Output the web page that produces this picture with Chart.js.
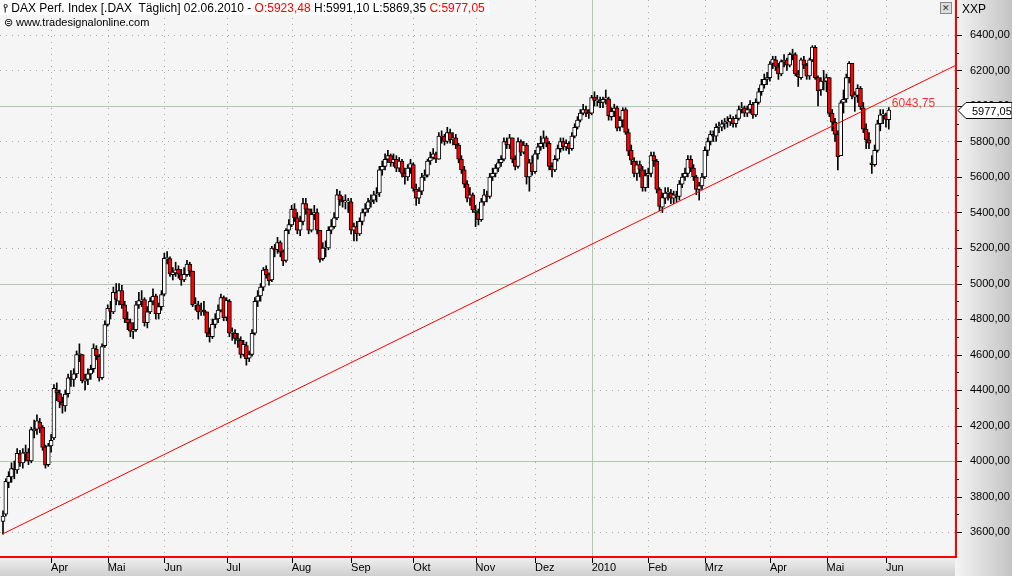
<!DOCTYPE html>
<html>
<head>
<meta charset="utf-8">
<script src="https://cdn.jsdelivr.net/npm/chart.js@4"></script>
<style>
  body { margin: 0; background: #f5f5f5; font-family: "Liberation Sans", Arial, sans-serif; }
  #wrap { position: relative; width: 1012px; height: 576px; }
  #head { position: absolute; left: 0; top: 0; font-size: 12px; line-height: 14px; }
  #head .l1 { background: #fff; padding: 1px 4px 0 3px; display: inline-block; }
  #head .l2 { font-size: 11px; padding-left: 4px; }
  .red { color: #ff0000; }
  #xxp { position: absolute; left: 962px; top: 2px; font-size: 12px; }
  #xbox { position: absolute; left: 940px; top: 2px; width: 10px; height: 10px; border: 1px solid #888; background: #ddd; font-size: 9px; line-height: 10px; text-align: center; color: #333; }
</style>
</head>
<body>
<div id="wrap">
  <canvas id="chart" width="1012" height="576"></canvas>
  <div id="head">
    <div class="l1">&#x2AEF; DAX Perf. Index [.DAX&nbsp; Täglich] 02.06.2010 - <span class="red">O:5923,48</span> H:5991,10 L:5869,35 <span class="red">C:5977,05</span></div>
    <div class="l2">&#x229C; www.tradesignalonline.com</div>
  </div>
  <div id="xbox">✕</div>
  <div id="xxp">XXP</div>
</div>
<script>
// trading day index 0 = 09.03.2009
const monthIdx = [17, 37, 57, 79, 102, 123, 145, 167, 188, 208, 228, 248, 271, 291, 312]
const monthLabels = ['Apr', 'Mai', 'Jun', 'Jul', 'Aug', 'Sep', 'Okt', 'Nov', 'Dez', '2010', 'Feb', 'Mrz', 'Apr', 'Mai', 'Jun']
const priceTicks = [3600, 3800, 4000, 4200, 4400, 4600, 4800, 5000, 5200, 5400, 5600, 5800, 6000, 6200, 6400]

const opens = [
  3660,3700,3880,3910,3960,3950,4040,3990,4040,4050,4000,4170,4180,4220,4190,4080,3980,
  4085,4130,4400,4380,4330,4310,4380,4470,4460,4490,4600,4600,4450,4460,4490,4520,4630,4590,4470,4650,
  4770,4860,4840,4950,4900,4960,4880,4800,4780,4730,4740,4880,4900,4910,4780,4840,4900,4930,4830,4870,
  4940,5140,5140,5050,5060,5080,5050,5020,5050,5110,5070,4880,4880,4840,4850,4840,4720,4700,4770,4800,4850,4920,
  4810,4900,4720,4720,4690,4680,4600,4650,4580,4600,4720,4900,4930,4980,5080,5050,5020,5200,5190,5230,5180,5130,5300,
  5330,5420,5370,5300,5350,5450,5420,5300,5390,5400,5300,5140,5200,5200,5300,5320,5370,5500,5470,5460,5460,
  5460,5300,5320,5280,5350,5400,5420,5460,5470,5500,5510,5640,5660,5700,5720,5680,5700,5650,5690,5620,5600,5650,
  5670,5530,5480,5520,5600,5610,5690,5710,5730,5700,5830,5830,5800,5850,5810,5820,5780,5700,5640,5560,5480,5500,
  5410,5400,5360,5460,5500,5490,5600,5620,5650,5680,5700,5800,5780,5820,5700,5660,5800,5740,5780,5600,5680,
  5630,5730,5770,5790,5820,5790,5660,5640,5700,5760,5800,5770,5790,5760,5830,5880,5920,5960,5980,5960,
  5960,6050,6030,6030,6020,6040,6040,5940,5970,5990,5880,5920,5980,5850,5750,5690,5620,5670,5640,5540,
  5610,5620,5720,5690,5530,5430,5480,5510,5510,5480,5500,5490,5560,5600,5620,5700,5650,5600,5530,5550,
  5600,5750,5800,5840,5830,5880,5880,5900,5910,5910,5930,5900,5930,5980,5990,5960,5980,6010,5950,6020,6080,6120,6150,
  6160,6240,6260,6220,6180,6250,6260,6230,6290,6290,6180,6160,6260,6230,6170,6260,6330,6160,6090,6140,
  6140,6160,5960,5910,5840,5720,6020,6040,6160,6240,6050,6060,6100,5990,5870,5810,5680,5670,5750,5900,5950,
  5950,5923.48
]
const highs = [
  3720,3900,3940,3990,4000,4070,4060,4070,4090,4070,4190,4230,4260,4240,4200,4090,4100,
  4150,4430,4440,4400,4360,4400,4490,4510,4520,4620,4660,4600,4490,4520,4540,4660,4650,4600,4660,4790,
  4880,4900,4980,5000,5000,4990,4900,4840,4800,4780,4900,4950,4960,4920,4870,4920,4970,4940,4890,4960,
  5170,5180,5150,5090,5120,5100,5080,5090,5130,5120,5070,4920,4900,4890,4900,4840,4750,4800,4830,4880,4940,4930,
  4920,4910,4750,4740,4720,4700,4680,4670,4620,4740,4920,4960,5000,5090,5100,5060,5210,5220,5260,5240,5190,5310,5360,
  5440,5450,5400,5380,5480,5480,5420,5420,5440,5420,5300,5230,5240,5320,5360,5400,5530,5520,5490,5500,5480,
  5480,5340,5350,5370,5420,5450,5480,5500,5520,5540,5660,5690,5730,5750,5730,5730,5720,5710,5700,5650,5670,5700,
  5680,5560,5540,5620,5640,5700,5740,5760,5740,5850,5860,5840,5880,5870,5850,5840,5790,5720,5660,5580,5540,5510,
  5440,5420,5480,5530,5520,5620,5650,5670,5700,5720,5820,5820,5840,5820,5720,5820,5810,5800,5790,5700,5720,
  5750,5790,5830,5860,5830,5800,5680,5720,5780,5820,5820,5810,5800,5850,5900,5940,5980,6010,6000,5980,
  6060,6080,6060,6050,6050,6090,6050,5990,6010,6000,5940,5990,5990,5870,5780,5710,5690,5690,5660,5640,
  5650,5740,5740,5700,5540,5510,5540,5540,5530,5520,5520,5580,5620,5650,5720,5720,5670,5610,5570,5620,
  5770,5820,5860,5860,5900,5910,5920,5930,5940,5950,5940,5950,6000,6020,6000,6000,6030,6020,6040,6100,6150,6180,6190,
  6250,6280,6280,6240,6260,6290,6270,6300,6320,6300,6200,6270,6280,6240,6270,6340,6340,6170,6160,6200,
  6180,6160,5980,5930,5860,6030,6090,6180,6250,6240,6080,6120,6110,6020,5900,5850,5720,5780,5920,5980,5980,
  5960,5991.10
]
const lows = [
  3588,3690,3850,3880,3900,3930,3970,3960,4000,3980,3990,4130,4150,4160,4060,3960,3970,
  4050,4120,4340,4300,4270,4280,4360,4420,4420,4470,4560,4440,4400,4430,4460,4500,4570,4450,4460,4640,
  4760,4800,4830,4880,4880,4860,4780,4740,4700,4690,4730,4860,4870,4760,4750,4830,4880,4800,4800,4850,
  4930,5110,5040,5020,5040,5030,4990,5010,5040,5040,4870,4850,4800,4820,4820,4700,4670,4690,4750,4780,4840,4790,
  4790,4700,4680,4660,4640,4580,4590,4540,4560,4590,4710,4870,4900,4960,5030,4990,5010,5150,5170,5150,5100,5120,5280,
  5320,5350,5280,5270,5330,5390,5280,5290,5360,5280,5120,5130,5150,5190,5280,5310,5360,5440,5430,5420,5400,
  5280,5240,5240,5270,5330,5380,5400,5430,5450,5460,5490,5610,5640,5680,5660,5660,5630,5630,5600,5560,5580,5620,
  5520,5440,5450,5500,5580,5600,5670,5700,5680,5700,5790,5780,5790,5790,5780,5760,5680,5620,5540,5460,5440,5400,
  5320,5330,5350,5440,5460,5480,5580,5600,5630,5660,5690,5760,5760,5680,5640,5650,5720,5730,5560,5520,5610,
  5620,5700,5750,5760,5770,5640,5600,5630,5690,5740,5750,5750,5730,5750,5820,5870,5910,5950,5940,5930,
  5950,6000,6000,5990,5990,6010,5920,5920,5940,5860,5860,5880,5840,5720,5670,5600,5580,5600,5520,5520,
  5540,5600,5660,5510,5410,5400,5450,5470,5450,5450,5460,5470,5540,5580,5600,5630,5580,5500,5470,5530,
  5590,5720,5780,5800,5800,5850,5860,5870,5880,5890,5880,5880,5920,5960,5940,5940,5960,5930,5940,6010,6060,6100,6120,
  6140,6210,6200,6150,6170,6220,6200,6220,6260,6170,6110,6150,6210,6150,6150,6250,6150,6000,6060,6090,
  6080,5940,5860,5800,5640,5720,5960,6020,6130,6040,5970,6020,5980,5850,5760,5760,5620,5660,5740,5860,5900,
  5880,5869.35
]
const closes = [
  3690,3886,3914,3957,3953,4044,3990,4046,4050,4000,4177,4180,4226,4188,4076,3977,4085,
  4117,4410,4384,4333,4314,4377,4469,4460,4491,4600,4600,4453,4462,4491,4516,4636,4593,4468,4645,4769,
  4860,4843,4950,4910,4960,4880,4800,4780,4731,4740,4880,4904,4908,4780,4840,4900,4928,4830,4870,4937,
  5142,5140,5054,5064,5077,5052,5020,5052,5110,5070,4880,4880,4840,4850,4840,4720,4700,4770,4800,4850,4920,4808,
  4905,4720,4720,4690,4680,4600,4657,4576,4600,4720,4900,4929,4980,5075,5049,5015,5200,5190,5230,5176,5127,5300,5332,
  5418,5370,5300,5350,5450,5418,5300,5390,5400,5300,5136,5200,5204,5300,5320,5370,5500,5470,5460,5460,5460,
  5300,5320,5280,5350,5400,5420,5460,5470,5500,5500,5640,5660,5700,5720,5680,5700,5650,5690,5620,5600,5650,5675,
  5536,5480,5520,5600,5610,5690,5710,5730,5700,5830,5825,5800,5850,5810,5820,5780,5700,5640,5560,5480,5500,5414,
  5400,5360,5460,5500,5490,5600,5620,5650,5680,5700,5800,5780,5820,5700,5660,5800,5740,5780,5600,5680,5630,
  5730,5770,5790,5820,5790,5660,5640,5700,5760,5800,5770,5790,5760,5830,5880,5920,5960,5980,5960,5957,
  6048,6032,6034,6019,6037,6041,5944,5970,5988,5875,5919,5976,5851,5746,5695,5620,5668,5643,5540,5608,
  5620,5720,5690,5530,5434,5484,5510,5512,5480,5500,5490,5560,5600,5620,5700,5650,5600,5530,5550,5600,
  5750,5800,5840,5830,5880,5880,5900,5910,5910,5930,5900,5930,5980,5990,5960,5980,6010,5950,6020,6080,6120,6150,6160,
  6236,6264,6223,6180,6250,6257,6230,6291,6295,6180,6163,6260,6230,6168,6260,6332,6160,6085,6140,6135,
  6160,5958,5909,5840,5715,6018,6037,6160,6240,6055,6063,6100,5995,5870,5810,5790,5670,5750,5900,5950,5950,
  5925,5977.05
]
const trendStart = 3590
const trendEnd = 6043.75

const X_MIN = -1.06, X_MAX = 336.4
const Y_MIN = 3465, Y_MAX = 6597
const lastIdx = closes.length - 1
const slope = (trendEnd - trendStart) / lastIdx

const fmt = v => v.toFixed(2).replace('.', ',')

const gridPlugin = {
  id: 'grid',
  beforeDatasetsDraw(chart) {
    const { ctx, chartArea: a, scales: { x, y } } = chart
    ctx.save()
    ctx.fillStyle = '#f5f5f5'
    ctx.fillRect(a.left, a.top, a.right - a.left, a.bottom - a.top)
    ctx.lineWidth = 1
    priceTicks.forEach(v => {
      const py = Math.round(y.getPixelForValue(v)) + 0.5
      const solid = v % 1000 === 0
      ctx.strokeStyle = solid ? '#b2c8ae' : '#a8a8a8'
      ctx.setLineDash(solid ? [] : [1, 5])
      ctx.beginPath(); ctx.moveTo(a.left, py); ctx.lineTo(a.right, py); ctx.stroke()
    })
    monthIdx.forEach((v, i) => {
      const px = Math.round(x.getPixelForValue(v)) + 0.5
      const solid = monthLabels[i] === '2010'
      ctx.strokeStyle = solid ? '#b2c8ae' : '#a8a8a8'
      ctx.setLineDash(solid ? [] : [1, 5])
      ctx.beginPath(); ctx.moveTo(px, a.top); ctx.lineTo(px, a.bottom); ctx.stroke()
    })
    ctx.restore()
  },
  afterDraw(chart) {
    const { ctx, chartArea: a, scales: { x, y } } = chart
    ctx.save()
    // axis tick marks
    ctx.strokeStyle = '#000'
    ctx.lineWidth = 1
    monthIdx.forEach(v => {
      const px = Math.round(x.getPixelForValue(v)) + 0.5
      ctx.beginPath(); ctx.moveTo(px, a.bottom + 2); ctx.lineTo(px, a.bottom + 7); ctx.stroke()
    })
    priceTicks.forEach(v => {
      const py = Math.round(y.getPixelForValue(v)) + 0.5
      ctx.beginPath(); ctx.moveTo(a.right + 2, py); ctx.lineTo(a.right + 7, py); ctx.stroke()
      const pm = Math.round(y.getPixelForValue(v + 100)) + 0.5
      ctx.beginPath(); ctx.moveTo(a.right + 2, pm); ctx.lineTo(a.right + 4, pm); ctx.stroke()
    })
    // red frame lines
    ctx.strokeStyle = '#ff0000'
    ctx.lineWidth = 2
    ctx.beginPath(); ctx.moveTo(a.right + 1, 0); ctx.lineTo(a.right + 1, a.bottom + 1); ctx.lineTo(0, a.bottom + 1); ctx.stroke()
    // trend value label
    ctx.font = '12px "Liberation Sans", Arial'
    ctx.fillStyle = '#ff3030'
    ctx.textBaseline = 'top'
    ctx.fillText(fmt(trendEnd), x.getPixelForValue(lastIdx) + 3, y.getPixelForValue(trendEnd) - 1)
    // last price tag
    const ty = Math.round(y.getPixelForValue(closes[lastIdx])) + 0.5
    const tx = a.right + 3
    ctx.fillStyle = '#ffffff'
    ctx.strokeStyle = '#000'
    ctx.lineWidth = 1
    ctx.beginPath()
    ctx.moveTo(tx, ty); ctx.lineTo(tx + 8, ty - 8); ctx.lineTo(1012, ty - 8)
    ctx.lineTo(1012, ty + 8); ctx.lineTo(tx + 8, ty + 8); ctx.closePath()
    ctx.fill(); ctx.stroke()
    ctx.fillStyle = '#000'
    ctx.textBaseline = 'middle'
    ctx.font = '11px "Liberation Sans", Arial'
    ctx.fillText(fmt(closes[lastIdx]), tx + 14, ty + 1)
    ctx.restore()
  },
  beforeDraw(chart) {
    const { ctx, chartArea: a } = chart
    ctx.save()
    let g = ctx.createLinearGradient(a.right, 0, 1012, 0)
    g.addColorStop(0, '#f4f4f4'); g.addColorStop(1, '#c4c4c4')
    ctx.fillStyle = g
    ctx.fillRect(a.right, 0, 1012 - a.right, 576)
    g = ctx.createLinearGradient(0, a.bottom, 0, 576)
    g.addColorStop(0, '#f2f2f2'); g.addColorStop(1, '#cfcfcf')
    ctx.fillStyle = g
    ctx.fillRect(0, a.bottom, a.right, 576 - a.bottom)
    ctx.restore()
  }
}

const candleIdx = closes.map((c, i) => i)

new Chart('chart', {
  type: 'bar',
  data: {
    datasets: [
      {
        type: 'line',
        data: [{ x: 0, y: trendStart }, { x: lastIdx, y: trendEnd }, { x: X_MAX, y: trendEnd + slope * (X_MAX - lastIdx) }],
        borderColor: '#ff0000', borderWidth: 1, pointRadius: 0, order: 0
      },
      {
        data: candleIdx.map(i => ({ x: i, y: [Math.min(opens[i], closes[i]), Math.max(opens[i], closes[i])] })),
        backgroundColor: candleIdx.map(i => closes[i] < opens[i] ? '#ff0000' : '#ffffff'),
        borderColor: '#000000', borderWidth: 1, borderSkipped: false,
        barThickness: 4, minBarLength: 1, order: 1
      },
      {
        data: candleIdx.map(i => ({ x: i, y: [lows[i], highs[i]] })),
        backgroundColor: '#000000', barThickness: 1, order: 2
      }
    ]
  },
  options: {
    responsive: false, animation: false,
    layout: { padding: 0 },
    plugins: { legend: { display: false }, tooltip: { enabled: false } },
    datasets: { bar: { grouped: false } },
    scales: {
      x: {
        type: 'linear', min: X_MIN, max: X_MAX, offset: false,
        grid: { display: false, drawTicks: false }, border: { display: false },
        afterFit: s => { s.height = 20; s.paddingLeft = 0; s.paddingRight = 0 },
        afterBuildTicks: s => { s.ticks = monthIdx.map(v => ({ value: v })) },
        ticks: {
          autoSkip: false, maxRotation: 0, align: 'start', padding: 5,
          color: '#000', font: { family: '"Liberation Sans", Arial', size: 11 },
          callback: v => monthLabels[monthIdx.indexOf(v)]
        }
      },
      y: {
        position: 'right', min: Y_MIN, max: Y_MAX,
        grid: { display: false }, border: { display: false },
        afterFit: s => { s.width = 1012 - 955; s.paddingTop = 0; s.paddingBottom = 0 },
        afterBuildTicks: s => { s.ticks = priceTicks.map(v => ({ value: v })) },
        ticks: {
          padding: 7, color: '#000',
          font: { family: '"Liberation Sans", Arial', size: 11 },
          callback: v => fmt(v)
        }
      }
    }
  },
  plugins: [gridPlugin]
})
</script>
</body>
</html>
